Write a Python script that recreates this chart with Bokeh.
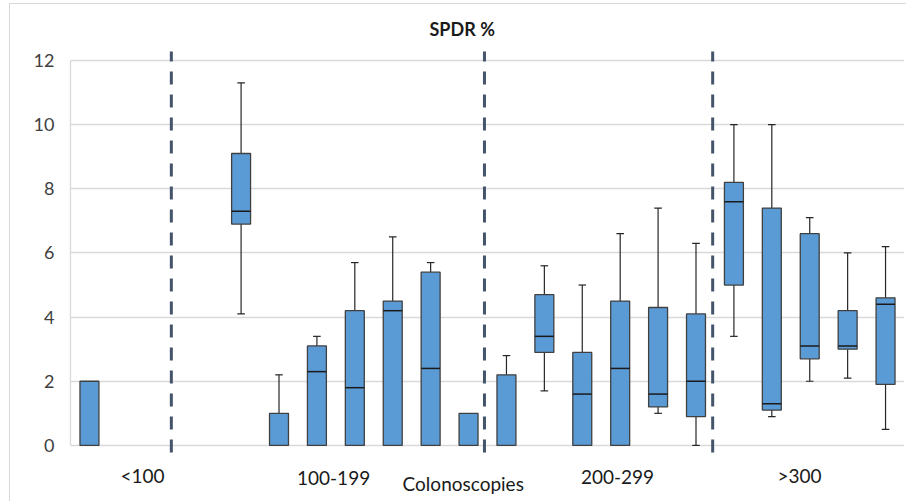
from bokeh.plotting import figure
from bokeh.models import Range1d, FixedTicker
from bokeh.core.properties import value
from bokeh.embed import file_html
from bokeh.resources import INLINE

# ---- data ----
slots = [0, 4, 5, 6, 7, 8, 9, 10, 11, 12, 13, 14, 15, 16, 17, 18, 19, 20, 21]
q1 = [0, 6.9, 0, 0, 0, 0, 0, 0, 0, 2.9, 0, 0, 1.2, 0.9, 5.0, 1.1, 2.7, 3.0, 1.9]
median = [0, 7.3, 0, 2.3, 1.8, 4.2, 2.4, 0, 0, 3.4, 1.6, 2.4, 1.6, 2.0, 7.6, 1.3, 3.1, 3.1, 4.4]
q3 = [2.0, 9.1, 1.0, 3.1, 4.2, 4.5, 5.4, 1.0, 2.2, 4.7, 2.9, 4.5, 4.3, 4.1, 8.2, 7.4, 6.6, 4.2, 4.6]
whisker_low = [0, 4.1, 0, 0, 0, 0, 0, 0, 0, 1.7, 0, 0, 1.0, 0, 3.4, 0.9, 2.0, 2.1, 0.5]
whisker_high = [2.0, 11.3, 2.2, 3.4, 5.7, 6.5, 5.7, 1.0, 2.8, 5.6, 5.0, 6.6, 7.4, 6.3, 10.0, 10.0, 7.1, 6.0, 6.2]

group_labels = ["<100", "100-199", "200-299", ">300"]
group_label_x = [1.9, 6.94, 14.43, 19.23]
group_label_y = [-0.93, -1.02, -1.0, -0.93]
axis_caption = "Colonoscopies"
separators = [2.66, 10.92, 16.94]
y_ticks = [0, 2, 4, 6, 8, 10, 12]

FONT = "Lato"
BOX_FILL = "#5B9BD5"
EDGE = "#404040"

p = figure(width=896, height=497, output_backend="svg", toolbar_location=None,
           x_range=Range1d(0, 22), y_range=Range1d(-1.78, 12.312),
           min_border_left=60, min_border_right=2, min_border_top=45, min_border_bottom=0,
           frame_width=834, frame_height=452,
           styles={"margin-left": "9px", "margin-top": "3px",
                   "border-left": "1px solid #d9d9d9", "border-top": "1px solid #d9d9d9"})
p.outline_line_color = None
p.background_fill_color = "white"
p.border_fill_color = "white"
p.xaxis.visible = False

# grid
p.xgrid.visible = False
p.ygrid.ticker = FixedTicker(ticks=y_ticks)
p.ygrid.grid_line_color = "#d9d9d9"
p.ygrid.grid_line_width = 1.3

# y axis
p.yaxis.ticker = FixedTicker(ticks=y_ticks)
p.yaxis.bounds = (0, 12)
p.yaxis.axis_line_color = "#d9d9d9"
p.yaxis.axis_line_width = 1.3
p.yaxis.major_tick_line_color = None
p.yaxis.minor_tick_line_color = None
p.yaxis.major_label_standoff = 10
p.yaxis.major_label_text_font = FONT
p.yaxis.major_label_text_font_size = "18px"
p.yaxis.major_label_text_color = "#404040"

# title
p.title.text = "SPDR %"
p.title.align = "left"
p.title.offset = 359
p.title.text_font = FONT
p.title.text_font_size = "18px"
p.title.text_font_style = "bold"
p.title.text_color = "#1a1a1a"
p.title.standoff = 22

# group labels and caption under the plot
p.text(x=group_label_x, y=group_label_y, text=group_labels, text_align="center",
       text_baseline="middle", text_font=value(FONT), text_font_size="19px",
       text_color="#1a1a1a")
p.text(x=[10.36], y=[-1.2], text=[axis_caption], text_align="center",
       text_baseline="middle", text_font=value(FONT), text_font_size="19px",
       text_color="#1a1a1a")

# separators
p.segment(x0=separators, x1=separators, y0=[-0.22] * len(separators), y1=[12.28] * len(separators),
          line_color="#44546A", line_width=3, line_dash="13 10")

# whiskers (only where they extend beyond the box)
hi_x = [s + 0.5 for s, t, w in zip(slots, q3, whisker_high) if w > t]
hi_y0 = [t for t, w in zip(q3, whisker_high) if w > t]
hi_y1 = [w for t, w in zip(q3, whisker_high) if w > t]
lo_x = [s + 0.5 for s, b, w in zip(slots, q1, whisker_low) if w < b]
lo_y0 = [b for b, w in zip(q1, whisker_low) if w < b]
lo_y1 = [w for b, w in zip(q1, whisker_low) if w < b]

p.segment(x0=hi_x, x1=hi_x, y0=hi_y0, y1=hi_y1, line_color="#262626", line_width=1.2)
p.segment(x0=lo_x, x1=lo_x, y0=lo_y0, y1=lo_y1, line_color="#262626", line_width=1.2)
cap = 0.1
p.segment(x0=[x - cap for x in hi_x], x1=[x + cap for x in hi_x], y0=hi_y1, y1=hi_y1,
          line_color="#262626", line_width=1.2)
p.segment(x0=[x - cap for x in lo_x], x1=[x + cap for x in lo_x], y0=lo_y1, y1=lo_y1,
          line_color="#262626", line_width=1.2)

# boxes
centers = [s + 0.5 for s in slots]
p.vbar(x=centers, width=0.5, bottom=q1, top=q3, fill_color=BOX_FILL,
       line_color=EDGE, line_width=1.3)

# medians
m_x = [c for c, b, m in zip(centers, q1, median) if m > b]
m_y = [m for b, m in zip(q1, median) if m > b]
p.segment(x0=[x - 0.25 for x in m_x], x1=[x + 0.25 for x in m_x], y0=m_y, y1=m_y,
          line_color="#1a1a1a", line_width=1.5)

open("out.html", "w").write(file_html(p, INLINE))
